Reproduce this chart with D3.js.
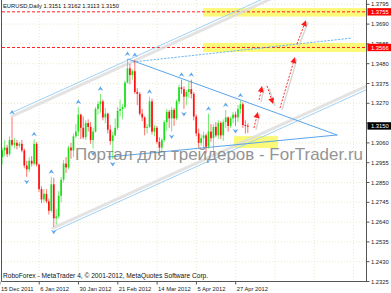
<!DOCTYPE html>
<html><head><meta charset="utf-8">
<script src="https://cdn.jsdelivr.net/npm/d3@7"></script>
<style>body{margin:0;background:#fff;} svg{display:block;font-family:"Liberation Sans",Arial,sans-serif;}</style>
</head><body><svg id="c" width="391" height="293"></svg>
<script>
// ---- data ----
const symbolTitle = "EURUSD,Daily  1.3151 1.3162 1.3113 1.3150";
const footer = "RoboForex - MetaTrader 4, © 2001-2012, MetaQuotes Software Corp.";
const watermark = "Портал для трейдеров - ForTrader.ru";
const dateTickIdx = [0,16,32,48,64,80,96,112,128,144];
const dateTickLabels = ["15 Dec 2011","6 Jan 2012","30 Jan 2012","21 Feb 2012","14 Mar 2012","5 Apr 2012","27 Apr 2012","","",""];
const priceTicks = ["1.3795","1.3690","1.3585","1.3480","1.3375","1.3270","1.3165","1.3060","1.2955","1.2850","1.2745","1.2640","1.2535","1.2430","1.2325"];
const hiddenPriceLabels = ["1.3165"]; // covered by the current-price box in the reference
const opens  = [1.2985,1.3020,1.3035,1.3000,1.3075,1.3050,1.3060,1.3045,1.3055,1.3020,1.2940,1.2920,1.2965,1.2950,1.3055,1.2945,1.2815,1.2760,1.2790,1.2750,1.2700,1.2840,1.2660,1.2670,1.2780,1.2865,1.2950,1.2930,1.3035,1.3020,1.3095,1.3120,1.3210,1.3140,1.3090,1.3165,1.3145,1.3075,1.3120,1.3240,1.3265,1.3280,1.3195,1.3215,1.3130,1.3070,1.3100,1.3140,1.3230,1.3240,1.3250,1.3380,1.3455,1.3420,1.3440,1.3330,1.3320,1.3215,1.3195,1.3140,1.3145,1.3280,1.3120,1.3140,1.3065,1.3035,1.3075,1.3170,1.3225,1.3190,1.3235,1.3190,1.3280,1.3355,1.3345,1.3305,1.3330,1.3345,1.3320,1.3200,1.3110,1.3060,1.3085,1.3100,1.3040,1.3120,1.3085,1.3145,1.3100,1.3165,1.3100,1.3170,1.3195,1.3150,1.3190,1.3210,1.3195,1.3240,1.3265,1.3155,1.3151];
const highs  = [1.3035,1.3075,1.3050,1.3095,1.3195,1.3085,1.3075,1.3065,1.3075,1.3030,1.2965,1.2985,1.2990,1.3080,1.3065,1.2950,1.2830,1.2815,1.2815,1.2765,1.2880,1.2875,1.2710,1.2805,1.2880,1.2970,1.2985,1.3045,1.3060,1.3110,1.3160,1.3250,1.3215,1.3200,1.3180,1.3185,1.3170,1.3140,1.3250,1.3280,1.3320,1.3290,1.3245,1.3220,1.3155,1.3120,1.3190,1.3250,1.3290,1.3265,1.3390,1.3505,1.3480,1.3450,1.3500,1.3350,1.3330,1.3240,1.3200,1.3160,1.3305,1.3295,1.3155,1.3150,1.3090,1.3085,1.3180,1.3240,1.3235,1.3250,1.3245,1.3290,1.3370,1.3395,1.3360,1.3340,1.3385,1.3395,1.3330,1.3210,1.3135,1.3105,1.3120,1.3110,1.3215,1.3160,1.3160,1.3170,1.3180,1.3175,1.3185,1.3235,1.3200,1.3200,1.3225,1.3225,1.3260,1.3285,1.3275,1.3180,1.3162];
const lows   = [1.2945,1.2990,1.2985,1.2990,1.3040,1.3030,1.3025,1.3035,1.3010,1.2925,1.2880,1.2905,1.2935,1.2940,1.2935,1.2800,1.2740,1.2745,1.2740,1.2680,1.2690,1.2615,1.2625,1.2660,1.2745,1.2850,1.2900,1.2920,1.2975,1.2985,1.3085,1.3095,1.3080,1.3080,1.3075,1.3120,1.3055,1.3030,1.3115,1.3210,1.3220,1.3180,1.3165,1.3110,1.3050,1.2975,1.3095,1.3130,1.3200,1.3185,1.3240,1.3375,1.3370,1.3395,1.3320,1.3260,1.3205,1.3175,1.3100,1.3110,1.3140,1.3105,1.3095,1.3055,1.3005,1.3010,1.3065,1.3125,1.3140,1.3120,1.3150,1.3180,1.3265,1.3320,1.3240,1.3260,1.3300,1.3295,1.3180,1.3095,1.3035,1.3045,1.3030,1.3005,1.3030,1.3065,1.2995,1.3090,1.3080,1.3080,1.3070,1.3140,1.3120,1.3140,1.3165,1.3150,1.3170,1.3215,1.3140,1.3110,1.3113];
const closes = [1.3020,1.3035,1.3000,1.3075,1.3050,1.3060,1.3045,1.3055,1.3020,1.2940,1.2920,1.2965,1.2950,1.3055,1.2945,1.2815,1.2760,1.2790,1.2750,1.2700,1.2840,1.2660,1.2670,1.2780,1.2865,1.2950,1.2930,1.3035,1.3020,1.3095,1.3120,1.3210,1.3140,1.3090,1.3165,1.3145,1.3075,1.3120,1.3240,1.3265,1.3280,1.3195,1.3215,1.3130,1.3070,1.3100,1.3140,1.3230,1.3240,1.3250,1.3380,1.3455,1.3420,1.3440,1.3330,1.3320,1.3215,1.3195,1.3140,1.3145,1.3280,1.3120,1.3140,1.3065,1.3035,1.3075,1.3170,1.3225,1.3190,1.3235,1.3190,1.3280,1.3355,1.3345,1.3305,1.3330,1.3345,1.3320,1.3200,1.3110,1.3060,1.3085,1.3100,1.3040,1.3120,1.3085,1.3145,1.3100,1.3165,1.3100,1.3170,1.3195,1.3150,1.3190,1.3210,1.3195,1.3240,1.3265,1.3155,1.3150,1.3150];
const upFractals = [4,13,20,31,40,51,54,60,73,77,84,91,97];
const downFractals = [10,21,37,45,69,74,95];
// drawn objects as (bar index, price)
const channelUpper = [[4.0,1.3221],[80.5,1.3672]];
const channelLowerStart = [20.7,1.2590];
const midDotted = [[53.3,1.3489],[142.4,1.3616]];
const triUpper = [[51.2,1.3505],[136.3,1.3102]];
const triLower = [[43.1,1.2985],[136.3,1.3102]];
const forecastArrows = [
  [[102.5,1.3139],[104.1,1.3224]],
  [[104.6,1.3288],[105.8,1.3362]],
  [[107.8,1.3362],[110.3,1.3266]],
  [[113.1,1.3245],[119.2,1.3515]],
  [[120.0,1.3584],[123.7,1.3711]]
];
const levels = [1.3755, 1.3566];
const zones = [[81.8,150,1.3730,1.3775],[81.8,150,1.3542,1.3590],[94.4,112.3,1.3033,1.3096]];
const lastPrice = 1.3150;

// ---- scales ----
const W=391,H=293, L=2, R=366.5, T=0, B=281.5;
const x = d3.scaleLinear().domain([0,150]).range([2.2, 2.2+150*2.456]);
const y = d3.scaleLinear().domain([1.2325,1.3795]).range([281.5,4.3]);
const svg = d3.select("#c");
svg.append("defs").append("clipPath").attr("id","clip").append("rect").attr("x",L).attr("y",T).attr("width",R-L).attr("height",B-T);
const g = svg.append("g").attr("clip-path","url(#clip)");

// grid
priceTicks.forEach(t=>{ g.append("line").attr("x1",L).attr("x2",R).attr("y1",y(+t)).attr("y2",y(+t)).attr("stroke","#e4e4c0").attr("stroke-width",0.8).attr("stroke-dasharray","1,2"); });
dateTickIdx.forEach(i=>{ const xx=x(i)-2.3; g.append("line").attr("x1",xx).attr("x2",xx).attr("y1",T).attr("y2",B).attr("stroke","#e4e4c0").attr("stroke-width",0.8).attr("stroke-dasharray","1,2"); });

// zones
zones.forEach(z=>{ g.append("rect").attr("x",x(z[0])).attr("width",x(z[1])-x(z[0])).attr("y",y(z[3])).attr("height",y(z[2])-y(z[3])).attr("fill","#fbf86a").attr("opacity",0.9); });

// levels
levels.forEach(p=>{ g.append("line").attr("x1",L).attr("x2",R).attr("y1",y(p)).attr("y2",y(p)).attr("stroke","#ff2020").attr("stroke-width",1).attr("stroke-dasharray","3,2"); });

function lineThrough(p1,p2,i0,i1){ const s=(p2[1]-p1[1])/(p2[0]-p1[0]); return [[i0,p1[1]+s*(i0-p1[0])],[i1,p1[1]+s*(i1-p1[0])]]; }
const slope=(channelUpper[1][1]-channelUpper[0][1])/(channelUpper[1][0]-channelUpper[0][0]);
const upSeg = lineThrough(channelUpper[0],channelUpper[1],channelUpper[0][0],160);
const loSeg = [channelLowerStart,[160, channelLowerStart[1]+slope*(160-channelLowerStart[0])]];
function seg(s){ return {x1:x(s[0][0]),y1:y(s[0][1]),x2:x(s[1][0]),y2:y(s[1][1])}; }
function drawSeg(s,stroke,w,dash,dx,dy,op){ const o=seg(s); g.append("line").attr("x1",o.x1+(dx||0)).attr("y1",o.y1+(dy||0)).attr("x2",o.x2+(dx||0)).attr("y2",o.y2+(dy||0)).attr("stroke",stroke).attr("stroke-width",w).attr("stroke-dasharray",dash||null).attr("stroke-linecap","round").attr("opacity",op==null?1:op); }
// channel shadows
drawSeg(upSeg,"#dcdcdc",3,null,0,3.5,0.8);
drawSeg(loSeg,"#dcdcdc",3,null,0,-3.5,0.8);
drawSeg(upSeg,"#9fd0f4",1);
drawSeg(loSeg,"#9fd0f4",1);
drawSeg(midDotted,"#6fb8f0",1,"1.5,2");
drawSeg(triUpper,"#5aa5ea",1);
drawSeg(triLower,"#5aa5ea",1);

// candles
const bars = opens.map((o,i)=>({i,o,h:highs[i],l:lows[i],c:closes[i]}));
const cg = g.append("g");
bars.forEach(b=>{
  const col = b.c>=b.o ? "#18e018" : "#ff1010";
  cg.append("line").attr("x1",x(b.i)).attr("x2",x(b.i)).attr("y1",y(b.h)).attr("y2",y(b.l)).attr("stroke",col).attr("stroke-width",0.8).attr("opacity",0.75);
  const top=y(Math.max(b.o,b.c)), bot=y(Math.min(b.o,b.c));
  cg.append("rect").attr("x",x(b.i)-0.85).attr("width",1.7).attr("y",top).attr("height",Math.max(1,bot-top)).attr("fill",col);
});

// fractals
const fg = g.append("g").attr("fill","#5fa8ec");
upFractals.forEach(i=>{ const cx=x(i), cy=y(highs[i])-5; fg.append("path").attr("d",`M${cx},${cy-2.5} L${cx+2.8},${cy+2} L${cx},${cy+0.6} L${cx-2.8},${cy+2} Z`); });
downFractals.forEach(i=>{ const cx=x(i), cy=y(lows[i])+5; fg.append("path").attr("d",`M${cx},${cy+2.5} L${cx+2.8},${cy-2} L${cx},${cy-0.6} L${cx-2.8},${cy-2} Z`); });

// forecast arrows
forecastArrows.forEach(a=>{
  const o=seg(a);
  g.append("line").attr("x1",o.x1+2).attr("y1",o.y1+2).attr("x2",o.x2+2).attr("y2",o.y2+2).attr("stroke","#d8d8d8").attr("stroke-width",1.5);
  const ang=Math.atan2(o.y2-o.y1,o.x2-o.x1);
  const hl=6, bx=o.x2-hl*Math.cos(ang), by=o.y2-hl*Math.sin(ang);
  g.append("line").attr("x1",o.x1).attr("y1",o.y1).attr("x2",bx).attr("y2",by).attr("stroke","#ff2a2a").attr("stroke-width",1).attr("stroke-dasharray","2,1.5");
  const px=-Math.sin(ang)*3, py=Math.cos(ang)*3;
  g.append("path").attr("d",`M${o.x2},${o.y2} L${bx+px},${by+py} L${bx-px},${by-py} Z`).attr("fill","#ff1a1a");
});

// watermark
svg.append("text").attr("x",75).attr("y",160).attr("font-size",16.5).attr("fill","#7a7a7a").attr("opacity",0.8).attr("textLength",288).attr("lengthAdjust","spacingAndGlyphs").text(watermark);

// frame
svg.append("line").attr("x1",1.5).attr("x2",1.5).attr("y1",0).attr("y2",B).attr("stroke","#555").attr("stroke-width",1);
svg.append("line").attr("x1",R).attr("x2",R).attr("y1",0).attr("y2",B+0.5).attr("stroke","#555").attr("stroke-width",1);
svg.append("line").attr("x1",1.5).attr("x2",R).attr("y1",B).attr("y2",B).attr("stroke","#555").attr("stroke-width",1);

// price axis
const ax = svg.append("g").attr("font-size",5.8).attr("fill","#222");
priceTicks.forEach(t=>{
  ax.append("line").attr("x1",R).attr("x2",R+3).attr("y1",y(+t)).attr("y2",y(+t)).attr("stroke","#555");
  if(hiddenPriceLabels.includes(t)) return;
  ax.append("text").attr("x",371).attr("y",y(+t)).attr("dy","0.35em").text(t);
});
levels.forEach(p=>{
  ax.append("rect").attr("x",R+1).attr("y",y(p)-3.7).attr("width",W-R-1).attr("height",7.4).attr("fill","#ff0000");
  ax.append("text").attr("x",371).attr("y",y(p)).attr("dy","0.35em").attr("fill","#fff").text(p.toFixed(4));
});
ax.append("rect").attr("x",R+1).attr("y",y(lastPrice)-3.7).attr("width",W-R-1).attr("height",7.4).attr("fill","#000");
ax.append("text").attr("x",371).attr("y",y(lastPrice)).attr("dy","0.35em").attr("fill","#fff").text(lastPrice.toFixed(4));

// date axis
const dx = svg.append("g").attr("font-size",5.8).attr("fill","#222");
dateTickIdx.forEach((i,k)=>{
  const xx=x(i)-2.3;
  if(!dateTickLabels[k]) return;
  dx.append("line").attr("x1",xx).attr("x2",xx).attr("y1",B).attr("y2",B+3).attr("stroke","#555");
  dx.append("text").attr("x",Math.max(1,xx+1)).attr("y",291).text(dateTickLabels[k]);
});

// title & footer
svg.append("text").attr("x",3).attr("y",8).attr("font-size",5.8).attr("fill","#111").text(symbolTitle);
svg.append("text").attr("x",3).attr("y",277.5).attr("font-size",6.6).attr("fill","#111").text(footer);
</script></body></html>
